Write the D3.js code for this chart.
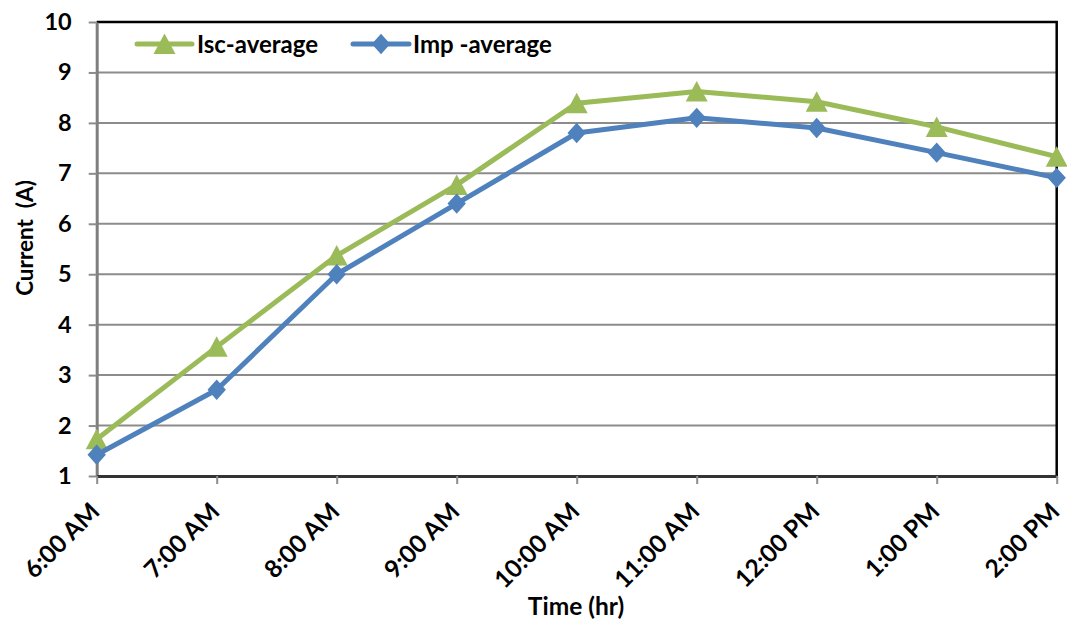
<!DOCTYPE html>
<html>
<head>
<meta charset="utf-8">
<script src="https://cdn.jsdelivr.net/npm/d3@7"></script>
<style>
  html, body { margin: 0; padding: 0; background: #fff; }
  svg { display: block; font-family: Lato, "Open Sans", sans-serif; font-weight: bold; }
</style>
</head>
<body>
<svg id="chart" width="1067" height="622"></svg>
<script>
// Hourly readings
const times = ["6:00 AM", "7:00 AM", "8:00 AM", "9:00 AM", "10:00 AM", "11:00 AM", "12:00 PM", "1:00 PM", "2:00 PM"];
const iscAverage = [1.73, 3.56, 5.37, 6.77, 8.39, 8.62, 8.42, 7.92, 7.33];
const impAverage = [1.42, 2.71, 5.0, 6.4, 7.8, 8.1, 7.9, 7.41, 6.91];
const yTicks = [1, 2, 3, 4, 5, 6, 7, 8, 9, 10];

// Marker shapes, centred on their bounding box
const triangleMarker = {
  draw(ctx) {
    ctx.moveTo(0, -10.5); ctx.lineTo(11, 10); ctx.lineTo(-11, 10); ctx.closePath();
  }
};
const diamondMarker = {
  draw(ctx) {
    ctx.moveTo(0, -10.2); ctx.lineTo(9.2, 0); ctx.lineTo(0, 10.2); ctx.lineTo(-9.2, 0); ctx.closePath();
  }
};

const series = [
  { name: "Isc-average", values: iscAverage, color: "#9BBB59", marker: triangleMarker },
  { name: "Imp -average", values: impAverage, color: "#4F81BD", marker: diamondMarker }
];

const svg = d3.select("#chart");
const plotLeft = 96.7, plotRight = 1056.7, plotTop = 22, plotBottom = 476;

const x = d3.scalePoint().domain(times).range([plotLeft, plotRight]);
const y = d3.scaleLinear().domain([1, 10]).range([plotBottom, plotTop]);

// Horizontal gridlines
svg.append("g").selectAll("line")
  .data(yTicks.slice(1))
  .join("line")
  .attr("x1", plotLeft).attr("x2", plotRight)
  .attr("y1", d => y(d)).attr("y2", d => y(d))
  .attr("stroke", "#8c8c8c").attr("stroke-width", 2);

// Plot border (top and right)
svg.append("path")
  .attr("d", `M${plotLeft},${plotTop}H${plotRight}V${plotBottom}`)
  .attr("fill", "none").attr("stroke", "#000").attr("stroke-width", 2.5);

// Y axis
const yAxis = svg.append("g")
  .attr("transform", `translate(${plotLeft},0)`)
  .call(d3.axisLeft(y).tickValues(yTicks).tickSize(8).tickPadding(17).tickSizeOuter(0));
yAxis.select(".domain").attr("stroke", "#7f7f7f").attr("stroke-width", 3);
yAxis.selectAll(".tick line").attr("stroke", "#8c8c8c").attr("stroke-width", 2);
yAxis.selectAll(".tick text")
  .attr("font-size", 23.5).attr("font-family", "Lato, sans-serif").attr("font-weight", "bold")
  .attr("fill", "#000");

// X axis
const xAxis = svg.append("g")
  .attr("transform", `translate(0,${plotBottom})`)
  .call(d3.axisBottom(x).tickSize(8).tickSizeOuter(0));
xAxis.select(".domain").attr("stroke", "#333").attr("stroke-width", 3);
xAxis.selectAll(".tick line").attr("stroke", "#8c8c8c").attr("stroke-width", 2);
xAxis.selectAll(".tick text")
  .attr("font-size", 24.5).attr("font-family", "Lato, sans-serif").attr("font-weight", "bold")
  .attr("fill", "#000")
  .attr("text-anchor", "end")
  .attr("dy", 0)
  .attr("transform", "translate(4,37) rotate(-45)")
  .attr("x", 0).attr("y", 0);

// Axis titles
svg.append("text")
  .attr("x", 576).attr("y", 615)
  .attr("text-anchor", "middle").attr("font-size", 24.5).text("Time (hr)");
svg.append("text")
  .attr("transform", "translate(33,238) rotate(-90)")
  .attr("text-anchor", "middle").attr("font-size", 22.5)
  .style("white-space", "pre").text("Current  (A)");

// Series lines and markers
series.forEach(s => {
  const line = d3.line().x((d, i) => x(times[i])).y(d => y(d));
  svg.append("path")
    .datum(s.values)
    .attr("d", line)
    .attr("fill", "none").attr("stroke", s.color).attr("stroke-width", 5)
    .attr("stroke-linejoin", "round");
  svg.append("g").selectAll("path")
    .data(s.values)
    .join("path")
    .attr("d", d3.symbol().type(s.marker))
    .attr("transform", (d, i) => `translate(${x(times[i])},${y(d)})`)
    .attr("fill", s.color);
});

// Legend
const legendItems = [
  { s: series[0], x0: 137, x1: 192, tx: 197 },
  { s: series[1], x0: 353, x1: 409, tx: 413 }
];
const lg = svg.append("g");
legendItems.forEach(item => {
  lg.append("line")
    .attr("x1", item.x0).attr("x2", item.x1).attr("y1", 44).attr("y2", 44)
    .attr("stroke", item.s.color).attr("stroke-width", 5).attr("stroke-linecap", "round");
  lg.append("path")
    .attr("d", d3.symbol().type(item.s.marker))
    .attr("transform", `translate(${(item.x0 + item.x1) / 2},44)`)
    .attr("fill", item.s.color);
  lg.append("text")
    .attr("x", item.tx).attr("y", 52.5)
    .attr("font-size", 24).text(item.s.name);
});
</script>
</body>
</html>
